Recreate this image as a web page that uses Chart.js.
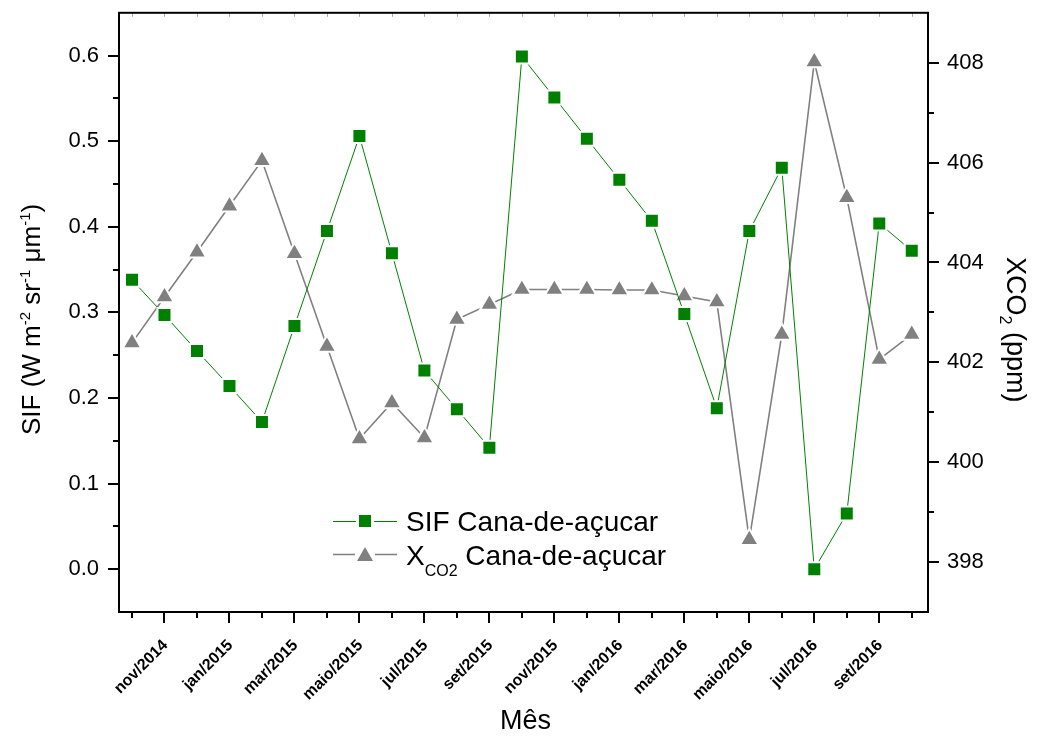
<!DOCTYPE html>
<html lang="pt">
<head>
<meta charset="utf-8">
<title>SIF e XCO2 - Cana-de-açucar</title>
<script src="https://cdn.jsdelivr.net/npm/chart.js@4.4.1/dist/chart.umd.min.js"></script>
<style>
  html, body { margin: 0; padding: 0; background: #fff; }
  #chart { display: block; }
</style>
</head>
<body>
<canvas id="chart" width="1037" height="736"></canvas>
<script>
// ===== Dados =====
const meses = [
  "out/2014", "nov/2014", "dez/2014", "jan/2015", "fev/2015", "mar/2015",
  "abr/2015", "maio/2015", "jun/2015", "jul/2015", "ago/2015", "set/2015",
  "out/2015", "nov/2015", "dez/2015", "jan/2016", "fev/2016", "mar/2016",
  "abr/2016", "maio/2016", "jun/2016", "jul/2016", "ago/2016", "set/2016",
  "out/2016",
];

// SIF (W m-2 sr-1 um-1)
const sifCana = [
  0.338, 0.297, 0.255, 0.214, 0.172, 0.284, 0.395, 0.506, 0.369, 0.232,
  0.187, 0.142, 0.599, 0.551, 0.503, 0.455, 0.407, 0.298, 0.188, 0.395,
  0.469, 0.0, 0.065, 0.404, 0.372,
];

// XCO2 (ppm)
const xco2Cana = [
  402.39, 403.31, 404.21, 405.13, 406.04, 404.18, 402.32, 400.47, 401.19,
  400.49, 402.86, 403.16, 403.46, 403.46, 403.46, 403.45, 403.45, 403.33,
  403.21, 398.45, 402.56, 408.02, 405.3, 402.06, 402.56,
];

const sifTicks = [0, 0.1, 0.2, 0.3, 0.4, 0.5, 0.6];
const sifMinorTicks = [0.05, 0.15, 0.25, 0.35, 0.45, 0.55];
const xco2Ticks = [398, 400, 402, 404, 406, 408];
const xco2MinorTicks = [399, 401, 403, 405, 407];

const verde = "#008000";
const cinza = "#808080";
const fonte = "'Liberation Sans', Arial, sans-serif";

Chart.defaults.font.family = fonte;
Chart.defaults.color = "#000";

// ===== Helpers =====
function linha(ctx, x1, y1, x2, y2) {
  ctx.beginPath();
  ctx.moveTo(x1, y1);
  ctx.lineTo(x2, y2);
  ctx.stroke();
}

// texto com sobrescrito / subscrito
function textoPartes(ctx, partes, x, y) {
  let cx = x;
  partes.forEach((p) => {
    ctx.font = `${p.size}px ${fonte}`;
    ctx.fillText(p.text, cx, y + (p.dy || 0));
    cx += ctx.measureText(p.text).width;
  });
}

// sem padding extra dos rotulos: a area do grafico fica fixa
function semPadding(s) {
  s.paddingTop = 0;
  s.paddingBottom = 0;
  s.paddingLeft = 0;
  s.paddingRight = 0;
}

// ===== Moldura, ticks, titulos e legenda =====
const molduraPlugin = {
  id: "moldura",
  afterDraw(chart) {
    const { ctx, chartArea: a, scales } = chart;
    ctx.save();

    // ticks superiores (pequenos, para dentro)
    ctx.strokeStyle = "#aaa";
    ctx.lineWidth = 1;
    meses.forEach((m, i) => {
      const x = Math.round(scales.x.getPixelForValue(i)) + 0.5;
      linha(ctx, x, a.top, x, a.top + 4);
    });

    ctx.strokeStyle = "#000";
    ctx.lineWidth = 2;
    ctx.strokeRect(a.left, a.top, a.right - a.left, a.bottom - a.top);

    // eixo x
    meses.forEach((m, i) => {
      const x = Math.round(scales.x.getPixelForValue(i));
      linha(ctx, x, a.bottom, x, a.bottom + (i % 2 === 1 ? 11 : 6));
    });
    // eixo SIF
    sifTicks.forEach((v) => {
      const y = Math.round(scales.ySif.getPixelForValue(v));
      linha(ctx, a.left, y, a.left - 11, y);
    });
    sifMinorTicks.forEach((v) => {
      const y = Math.round(scales.ySif.getPixelForValue(v));
      linha(ctx, a.left, y, a.left - 6, y);
    });
    // eixo XCO2
    xco2Ticks.forEach((v) => {
      const y = Math.round(scales.yCo2.getPixelForValue(v));
      linha(ctx, a.right, y, a.right + 11, y);
    });
    xco2MinorTicks.forEach((v) => {
      const y = Math.round(scales.yCo2.getPixelForValue(v));
      linha(ctx, a.right, y, a.right + 6, y);
    });

    ctx.fillStyle = "#000";
    ctx.textBaseline = "alphabetic";
    ctx.textAlign = "left";

    // titulo eixo esquerdo
    ctx.save();
    ctx.translate(40, 435);
    ctx.rotate(-Math.PI / 2);
    textoPartes(ctx, [
      { text: "SIF (W m", size: 26 },
      { text: "-2", size: 15, dy: -10 },
      { text: " sr", size: 26 },
      { text: "-1", size: 15, dy: -10 },
      { text: " μm", size: 26 },
      { text: "-1", size: 15, dy: -10 },
      { text: ")", size: 26 },
    ], 0, 0);
    ctx.restore();

    // titulo eixo direito
    ctx.save();
    ctx.translate(1007, 257);
    ctx.rotate(Math.PI / 2);
    textoPartes(ctx, [
      { text: "XCO", size: 27 },
      { text: "2", size: 16, dy: 7 },
      { text: " (ppm)", size: 27 },
    ], 0, 0);
    ctx.restore();

    // titulo eixo x
    ctx.font = `27px ${fonte}`;
    ctx.textAlign = "center";
    ctx.fillText("Mês", (a.left + a.right) / 2 + 2, 729);
    ctx.textAlign = "left";

    // legenda
    ctx.lineWidth = 1;
    ctx.strokeStyle = verde;
    linha(ctx, 333, 521.5, 397, 521.5);
    ctx.fillStyle = "#fff";
    ctx.fillRect(356, 512, 18, 18);
    ctx.fillStyle = verde;
    ctx.fillRect(359, 515, 12, 12);

    ctx.lineWidth = 1.6;
    ctx.strokeStyle = cinza;
    linha(ctx, 333, 554.5, 397, 554.5);
    ctx.fillStyle = "#fff";
    ctx.fillRect(355, 544, 20, 20);
    ctx.fillStyle = cinza;
    ctx.beginPath();
    ctx.moveTo(365, 547);
    ctx.lineTo(373, 561);
    ctx.lineTo(357, 561);
    ctx.closePath();
    ctx.fill();

    ctx.fillStyle = "#000";
    textoPartes(ctx, [{ text: "SIF Cana-de-açucar", size: 28 }], 406, 531);
    textoPartes(ctx, [
      { text: "X", size: 28 },
      { text: "CO2", size: 16, dy: 11 },
      { text: " Cana-de-açucar", size: 28 },
    ], 406, 565);

    ctx.restore();
  },
};

// ===== Grafico =====
const ctx = document.getElementById("chart").getContext("2d");

new Chart(ctx, {
  type: "line",
  data: {
    datasets: [
      {
        label: "SIF Cana-de-açucar",
        data: sifCana.map((v, i) => ({ x: i, y: v })),
        yAxisID: "ySif",
        borderColor: verde,
        backgroundColor: verde,
        borderWidth: 1,
        pointStyle: "rect",
        pointRadius: 9.9,
        pointBackgroundColor: verde,
        pointBorderColor: "#fff",
        pointBorderWidth: 2,
        tension: 0,
      },
      {
        label: "XCO2 Cana-de-açucar",
        data: xco2Cana.map((v, i) => ({ x: i, y: v })),
        yAxisID: "yCo2",
        borderColor: cinza,
        backgroundColor: cinza,
        borderWidth: 1.6,
        pointStyle: "triangle",
        pointRadius: 10.8,
        pointBackgroundColor: cinza,
        pointBorderColor: "#fff",
        pointBorderWidth: 2,
        tension: 0,
      },
    ],
  },
  options: {
    responsive: false,
    animation: false,
    events: [],
    layout: { padding: { top: 10, left: 0, right: 0, bottom: 0 } },
    plugins: {
      legend: { display: false },
      tooltip: { enabled: false },
    },
    scales: {
      x: {
        type: "linear",
        min: -0.4,
        max: 24.5,
        afterBuildTicks: (s) => {
          s.ticks = meses.map((m, i) => ({ value: i }));
        },
        afterFit: (s) => {
          s.height = 124;
          semPadding(s);
        },
        grid: { display: false, drawTicks: false },
        border: { display: false },
        ticks: {
          autoSkip: false,
          minRotation: 45,
          maxRotation: 45,
          padding: 24,
          labelOffset: 1,
          font: { size: 16, weight: "bold" },
          callback: (v) => (v % 2 === 1 ? meses[v] : ""),
        },
      },
      ySif: {
        position: "left",
        min: -0.05,
        max: 0.65,
        afterBuildTicks: (s) => {
          s.ticks = sifTicks.map((v) => ({ value: v }));
        },
        afterFit: (s) => {
          s.width = 119;
          semPadding(s);
        },
        grid: { display: false, drawTicks: false },
        border: { display: false },
        ticks: {
          padding: 20,
          font: { size: 22 },
          callback: (v) => v.toFixed(1),
        },
      },
      yCo2: {
        position: "right",
        min: 397,
        max: 409,
        afterBuildTicks: (s) => {
          s.ticks = xco2Ticks.map((v) => ({ value: v }));
        },
        afterFit: (s) => {
          s.width = 109;
          semPadding(s);
        },
        grid: { display: false, drawTicks: false },
        border: { display: false },
        ticks: {
          padding: 19,
          font: { size: 22 },
          callback: (v) => String(v),
        },
      },
    },
  },
  plugins: [molduraPlugin],
});
</script>
</body>
</html>
